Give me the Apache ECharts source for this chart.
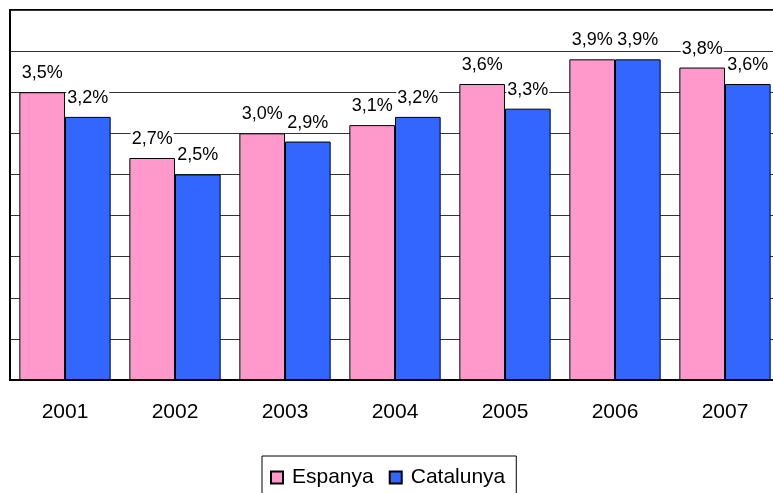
<!DOCTYPE html>
<html>
<head>
<meta charset="utf-8">
<script src="https://cdn.jsdelivr.net/npm/echarts@6/dist/echarts.min.js"></script>
<style>
  * { margin: 0; padding: 0; }
  body { background: #fff; }
</style>
</head>
<body>
<div id="chart" style="width: 773px;height: 493px;"></div>
<script>
// data
var years = ['2001', '2002', '2003', '2004', '2005', '2006', '2007'];
var espanya = [3.5, 2.7, 3.0, 3.1, 3.6, 3.9, 3.8];
var catalunya = [3.2, 2.5, 2.9, 3.2, 3.3, 3.9, 3.6];

var font = 'Arial, "Liberation Sans", sans-serif';

function pct(p) {
  return p.value.toFixed(1).replace('.', ',') + '%';
}

var labelStyle = {
  show: true,
  position: 'top',
  distance: 10,
  formatter: pct,
  color: '#000',
  fontFamily: font,
  fontSize: 18,
  backgroundColor: '#fff',
  padding: [1, 1, 0, 1]
};

var chart = echarts.init(document.getElementById('chart'));
chart.setOption({
  animation: false,
  grid: {
    left: 10, top: 10, right: -7, bottom: 113,
    outerBoundsMode: 'none',
    containLabel: false,
    show: true, borderColor: '#000', borderWidth: 2
  },
  legend: {
    data: ['Espanya', 'Catalunya'],
    left: 262, top: 456,
    orient: 'horizontal',
    icon: 'rect',
    itemWidth: 12, itemHeight: 12,
    itemGap: 15,
    borderColor: '#000', borderWidth: 1,
    padding: [11, 11, 30, 8],
    textStyle: { fontFamily: font, fontSize: 21, color: '#000', padding: [0, 0, 0, 4] }
  },
  xAxis: {
    type: 'category',
    data: years,
    axisLine: { lineStyle: { color: '#000', width: 2 } },
    axisTick: { show: false },
    axisLabel: { fontFamily: font, fontSize: 21, color: '#000', margin: 22 }
  },
  yAxis: {
    type: 'value',
    min: 0, max: 4.5, interval: 0.5,
    axisLine: { show: true, lineStyle: { color: '#000', width: 2 } },
    axisLabel: { show: false },
    axisTick: { show: false },
    splitLine: { lineStyle: { color: '#333', width: 1 } }
  },
  series: [
    {
      name: 'Espanya',
      type: 'bar',
      data: espanya,
      barGap: '0%',
      barCategoryGap: '17%',
      itemStyle: { color: '#FF99CC', borderColor: '#000', borderWidth: 1 },
      label: labelStyle
    },
    {
      name: 'Catalunya',
      type: 'bar',
      data: catalunya,
      barGap: '0%',
      barCategoryGap: '17%',
      itemStyle: { color: '#3366FF', borderColor: '#000', borderWidth: 1 },
      label: labelStyle
    }
  ]
});
</script>
</body>
</html>
